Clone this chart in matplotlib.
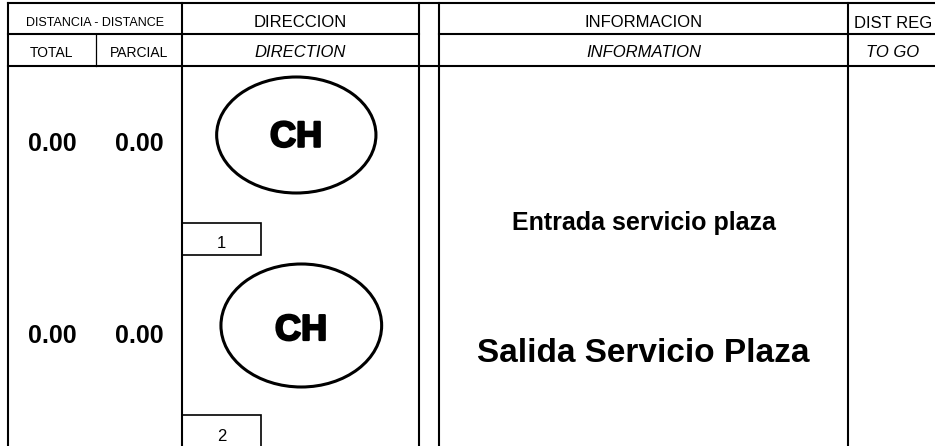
import matplotlib
matplotlib.use("Agg")
import matplotlib.pyplot as plt
from matplotlib.patches import Ellipse, Rectangle
import matplotlib.patheffects as pe

plt.rcParams['font.family'] = ['Liberation Sans', 'DejaVu Sans']

# ---- data ----
header_top = ["DISTANCIA - DISTANCE", "DIRECCION", "INFORMACION", "DIST REG"]
header_sub = ["TOTAL", "PARCIAL", "DIRECTION", "INFORMATION", "TO GO"]
row_total = ["0.00", "0.00"]
row_parcial = ["0.00", "0.00"]
row_symbol = ["CH", "CH"]
row_number = ["1", "2"]
row_info = ["Entrada servicio plaza", "Salida Servicio Plaza"]

W, H = 935, 446
fig = plt.figure(figsize=(W / 100, H / 100), dpi=100)
ax = fig.add_axes([0, 0, 1, 1])
ax.set_xlim(0, W)
ax.set_ylim(H, 0)
ax.axis('off')

# column boundaries (pixels)
xL, xTP, xDir, xG1, xG2, xReg, xR = 8, 96, 182, 419, 439, 848, 940
yT, yM, yB, yEnd = 3.3, 34.3, 65.7, 460

lw = 1.5
k = 'black'
# horizontal lines
ax.plot([xL, xR], [yT, yT], color=k, lw=lw, solid_capstyle='projecting')
ax.plot([xL, xG1], [yM, yM], color=k, lw=lw)
ax.plot([xG2, xR], [yM, yM], color=k, lw=lw)
ax.plot([xL, xR], [yB, yB], color=k, lw=lw)
# vertical lines
for x in (xL, xDir, xG1, xG2, xReg):
    ax.plot([x, x], [yT, yEnd], color=k, lw=lw, solid_capstyle='projecting')
ax.plot([xTP, xTP], [yM, yB], color=k, lw=0.9)

# header text (baselines)
by1, by2 = 27, 57
ax.text((xL + xDir) / 2, by1 - 0.5, header_top[0], ha='center', va='baseline', fontsize=9)
ax.text((xDir + xG1) / 2, by1, header_top[1], ha='center', va='baseline', fontsize=12)
ax.text((xG2 + xReg) / 2, by1, header_top[2], ha='center', va='baseline', fontsize=12)
ax.text(893, by1 + 0.5, header_top[3], ha='center', va='baseline', fontsize=12)

ax.text((xL + xTP) / 2, by2, header_sub[0], ha='center', va='baseline', fontsize=10)
ax.text((xTP + xDir) / 2, by2, header_sub[1], ha='center', va='baseline', fontsize=10)
ax.text((xDir + xG1) / 2, by2, header_sub[2], ha='center', va='baseline', fontsize=12, style='italic')
ax.text((xG2 + xReg) / 2, by2, header_sub[3], ha='center', va='baseline', fontsize=12, style='italic')
ax.text(893, by2, header_sub[4], ha='center', va='baseline', fontsize=12, style='italic')

# body rows
num_base = [151, 342.7]
ell_c = [(296.3, 135), (301.3, 325.5)]
ell_wh = [(159.3, 116), (160.7, 123)]
sym_base = [146.7, 340]
sym_x = [296, 301]
box_top = [222.7, 415]
num_box_base = [248.3, 441]
info_base = [230, 361.7]
info_fs = [18, 24]

heavy = [pe.withStroke(linewidth=1.6, foreground=k)]
for i in range(2):
    ax.text(52, num_base[i], row_total[i], ha='center', va='baseline', fontsize=18, fontweight='bold')
    ax.text(139, num_base[i], row_parcial[i], ha='center', va='baseline', fontsize=18, fontweight='bold')
    ax.add_patch(Ellipse(ell_c[i], ell_wh[i][0], ell_wh[i][1], fill=False, ec=k, lw=2.2))
    ax.text(sym_x[i], sym_base[i], row_symbol[i], ha='center', va='baseline', fontsize=26,
            fontweight='bold', path_effects=heavy)
    ax.add_patch(Rectangle((xDir, box_top[i]), 79, 32, fill=False, ec=k, lw=1.2))
    ax.text(xDir + 39.5, num_box_base[i], row_number[i], ha='center', va='baseline', fontsize=12)
    ax.text((xG2 + xReg) / 2, info_base[i], row_info[i], ha='center', va='baseline',
            fontsize=info_fs[i], fontweight='bold')

fig.savefig("out.png", dpi=100)
